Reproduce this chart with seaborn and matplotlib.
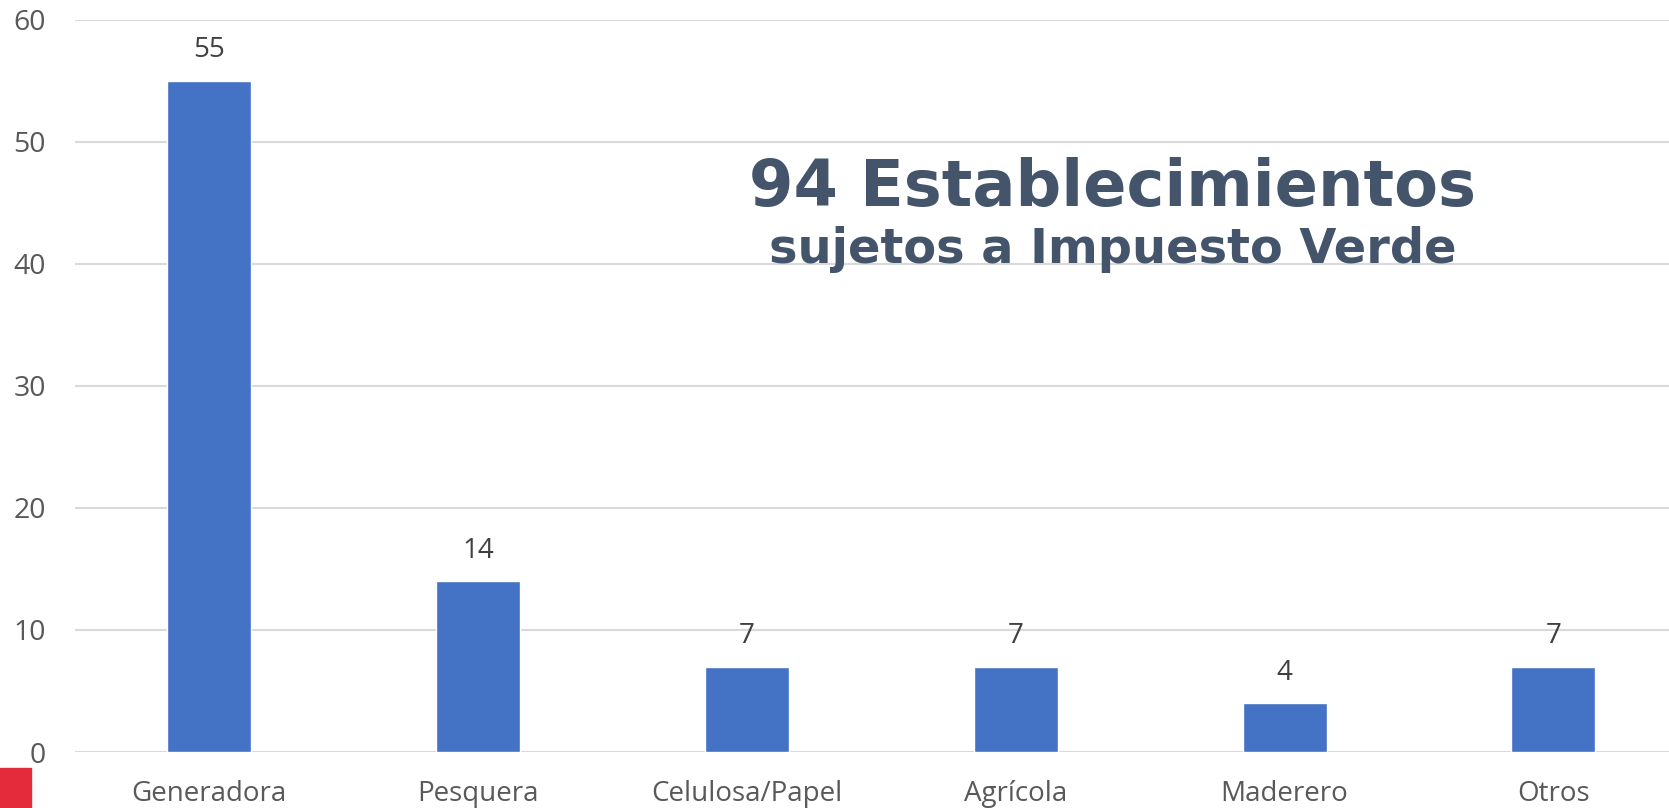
import matplotlib
matplotlib.use("Agg")
import matplotlib.pyplot as plt
import seaborn as sns
import pandas as pd

categorias = ["Generadora", "Pesquera", "Celulosa/Papel", "Agrícola", "Maderero", "Otros"]
valores = [55, 14, 7, 7, 4, 7]
ticks_y = [0, 10, 20, 30, 40, 50, 60]

df = pd.DataFrame({"sector": categorias, "n": valores})

sns.set_theme(style="white")
plt.rcParams["font.family"] = ["Open Sans", "DejaVu Sans"]

fig = plt.figure(figsize=(16.69, 8.08), dpi=100)
ax = fig.add_axes([0.0449, 0.0693, 0.9551, 0.906])

sns.barplot(data=df, x="sector", y="n", color="#4472C4", width=0.3125,
            saturation=1, ax=ax, zorder=3)

ax.set_ylim(0, 60)
ax.set_xlim(-0.5, 5.43)
ax.set_yticks(ticks_y)
ax.yaxis.grid(True, color="#D9D9D9", linewidth=1.5, zorder=0)
ax.set_axisbelow(True)
for s in ax.spines.values():
    s.set_visible(False)
ax.set_xlabel("")
ax.set_ylabel("")
ax.tick_params(axis="y", length=0, pad=21, labelsize=20.5, labelcolor="#595959")
ax.tick_params(axis="x", length=0, pad=20, labelsize=20, labelcolor="#595959")

# etiquetas de valor
for i, v in enumerate(valores):
    ax.annotate(str(v), (i, v), xytext=(0, 12), textcoords="offset points",
                ha="center", va="bottom", fontsize=20, color="#404040")

ax.text(0.651, 0.770, "94 Establecimientos", transform=ax.transAxes,
        ha="center", va="center", fontsize=46, fontweight="bold",
        color="#44546A", family="DejaVu Sans")
ax.text(0.651, 0.686, "sujetos a Impuesto Verde", transform=ax.transAxes,
        ha="center", va="center", fontsize=34.5, fontweight="bold",
        color="#44546A", family="DejaVu Sans")

# cuadro rojo en la esquina
fig.patches.append(plt.Rectangle((0, 0), 31 / 1669, 40 / 808, transform=fig.transFigure,
                                 color="#E32B3B", zorder=5))

fig.savefig("out.png", dpi=100)
